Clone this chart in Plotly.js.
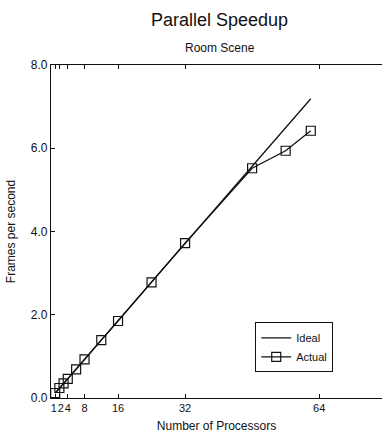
<!DOCTYPE html>
<html><head><meta charset="utf-8">
<script src="https://cdn.plot.ly/plotly-3.0.1.min.js"></script>
<style>html,body{margin:0;padding:0;background:#fff;overflow:hidden}</style>
</head><body>
<div id="chart" style="width:382px;height:436px"></div>
<script>
const processors = [1, 2, 3, 4, 6, 8, 12, 16, 24, 32, 48, 56, 62];
const actualFps = [0.12, 0.24, 0.35, 0.46, 0.69, 0.93, 1.39, 1.85, 2.78, 3.72, 5.52, 5.94, 6.42];
const idealProcessors = [1, 62];
const idealFps = [0.116, 7.19];
const xTickMarks = [1, 2, 4, 8, 16, 32, 64];
// "1" and "2" sit so close that they are labelled together, as in the reference
const xLabelVals = [1.5, 4, 8, 16, 32, 64];
const xLabelText = ["1\u200a2", "4", "8", "16", "32", "64"];
const yTickVals = [0, 2, 4, 6, 8];
const yTickText = ["0.0", "2.0", "4.0", "6.0", "8.0"];

const font = "Liberation Sans, Arial, Helvetica, sans-serif";
const ink = "#111111";
const traces = [
  {x: idealProcessors, y: idealFps, mode: "lines", name: "Ideal",
   line: {color: ink, width: 1.3}},
  {x: processors, y: actualFps, mode: "lines+markers", name: "Actual",
   line: {color: ink, width: 1.3},
   marker: {symbol: "square-open", size: 9, color: ink, line: {width: 1.2}}}
];
const layout = {
  width: 382, height: 436,
  margin: {l: 51, r: 0, t: 65, b: 38},
  paper_bgcolor: "#fff", plot_bgcolor: "#fff",
  font: {family: font, color: ink},
  showlegend: true,
  legend: {x: 0.617, y: 0.227, xanchor: "left", yanchor: "top",
    bordercolor: ink, borderwidth: 1, bgcolor: "#fff",
    font: {size: 11, family: font, color: ink}, tracegroupgap: 0, itemwidth: 30},
  xaxis: {range: [0, 79], tickvals: xLabelVals, ticktext: xLabelText, tickangle: 0,
    ticks: "inside", ticklen: 0, tickcolor: ink, showline: true, linecolor: ink,
    minor: {tickvals: xTickMarks, ticks: "inside", ticklen: 4, tickcolor: ink, showgrid: false},
    linewidth: 1.2, mirror: "ticks", showgrid: false, zeroline: false,
    ticklabelstandoff: 0,
    tickfont: {size: 11, family: font, color: ink},
    title: {text: "Number of Processors", font: {size: 12, family: font, color: ink}, standoff: 8}},
  yaxis: {range: [0, 8], tickvals: yTickVals, ticktext: yTickText,
    ticks: "inside", ticklen: 4, tickcolor: ink, showline: true, linecolor: ink,
    linewidth: 1.2, showgrid: false, zeroline: false,
    tickfont: {size: 12, family: font, color: ink},
    title: {text: "Frames per second", font: {size: 12, family: font, color: ink}, standoff: 12}},
  annotations: [
    {text: "Parallel Speedup", xref: "paper", yref: "paper", x: 0.51, y: 1, yanchor: "middle", yshift: 45,
     showarrow: false, font: {size: 18, family: font, color: ink}},
    {text: "Room Scene", xref: "paper", yref: "paper", x: 0.51, y: 1, yanchor: "middle", yshift: 17,
     showarrow: false, font: {size: 12, family: font, color: ink}}
  ]
};
Plotly.newPlot("chart", traces, layout, {displayModeBar: false, staticPlot: true});
</script>
</body></html>
